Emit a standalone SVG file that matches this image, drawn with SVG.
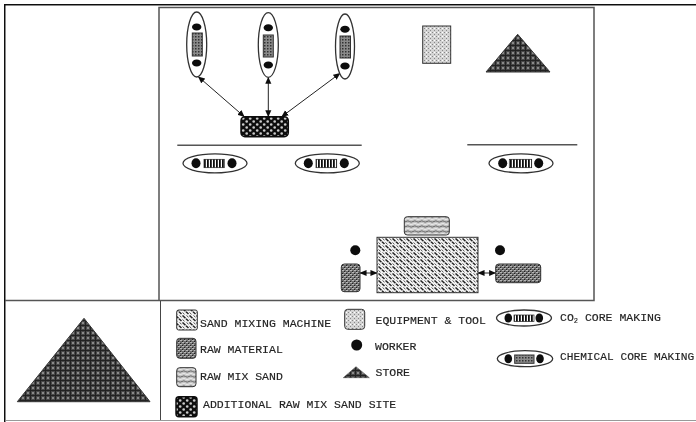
<svg xmlns="http://www.w3.org/2000/svg" width="696" height="422" viewBox="0 0 696 422">
<style>
.t{font-family:"Liberation Mono","Courier New",monospace;font-size:11.5px;fill:#222;stroke:#222;stroke-width:.15}
.f{fill:none;stroke:#555;stroke-width:1.5}
.e{fill:#fff;stroke:#333;stroke-width:1.300}
.w{fill:#0a0a0a}
.s{stroke:#333;stroke-width:1}
.c{stroke:#222;stroke-width:1;fill:none;marker-start:url(#a);marker-end:url(#a)}
</style>
<defs>
<marker id="a" viewBox="0 0 8 8" refX="7.5" refY="4" markerWidth="7" markerHeight="7" markerUnits="userSpaceOnUse" orient="auto-start-reverse"><path d="M0 0.5L8 4L0 7.5Z" fill="#111"/></marker>
<pattern id="mix" width="7" height="7" patternUnits="userSpaceOnUse"><rect width="7" height="7" fill="#f4f4f4"/><path d="M0.500 0.500L3.500 3.200M4 3.700L6.500 6" stroke="#222" stroke-width="1.500" fill="none"/><path d="M4.500 0.500L6.500 2.200M0.500 4.500L2.500 6.300" stroke="#555" stroke-width="1" fill="none"/></pattern>
<pattern id="raw" width="4" height="4" patternUnits="userSpaceOnUse"><rect width="4" height="4" fill="#6e6e6e"/><path d="M0 0h2v1H0zM2 2h2v1H2z" fill="#b8b8b8"/><path d="M2 1h1v1H2zM0 3h1v1H0z" fill="#222"/></pattern>
<pattern id="mixs" width="7" height="5" patternUnits="userSpaceOnUse"><rect width="7" height="5" fill="#c4c4c4"/><path d="M0 1.500Q2 .2 3.500 1.500T7 1.500" fill="none" stroke="#666" stroke-width="1"/><path d="M0 4Q2 3 3.500 4T7 4" fill="none" stroke="#eee" stroke-width="1"/></pattern>
<pattern id="add" width="7" height="6" patternUnits="userSpaceOnUse"><rect width="7" height="6" fill="#111"/><circle cx="1.700" cy="1.500" r="1.300" fill="#ccc"/><circle cx="5.200" cy="4.500" r="1.300" fill="#ccc"/></pattern>
<pattern id="eq" width="4" height="4" patternUnits="userSpaceOnUse"><rect width="4" height="4" fill="#d4d4d4"/><path d="M0 0h1v1H0zM2 2h1v1H2z" fill="#888"/><path d="M2 0h1v1H2z" fill="#fff"/></pattern>
<pattern id="st" width="5" height="5" patternUnits="userSpaceOnUse"><rect width="5" height="5" fill="#4a4a4a"/><path d="M0 .5H5M.5 0V5" stroke="#222" stroke-width="1"/><rect x="2" y="2" width="2" height="2" fill="#8a8a8a"/></pattern>
<pattern id="chem" width="3" height="3" patternUnits="userSpaceOnUse"><rect width="3" height="3" fill="#8a8a8a"/><path d="M0 0h1.500v1.500H0z" fill="#333"/></pattern>
<pattern id="bar" width="3" height="4" patternUnits="userSpaceOnUse"><rect width="3" height="4" fill="#fff"/><rect width="1.800" height="4" fill="#111"/></pattern>
<filter id="b" x="0" y="0" width="100%" height="100%"><feGaussianBlur stdDeviation=".5"/></filter>
</defs>
<rect width="696" height="422" fill="#fff"/>
<g filter="url(#b)">
<g id="frame">
<path d="M4.500 422V4.500H696" fill="none" stroke="#111" stroke-width="2"/>
<path d="M159 300V7.500H594V300.500H5" class="f"/>
<path d="M160.500 301V420" fill="none" stroke="#444" stroke-width="1"/>
<path d="M6 420.500H696" fill="none" stroke="#999" stroke-width="1"/>
<path d="M177.300 145.300H361.700M467.300 144.700H577.300" class="f"/>
</g>
<g id="connectors">
<path class="c" d="M198.300 76.700L244.300 116.700"/>
<path class="c" d="M268.300 77.300V116.700"/>
<path class="c" d="M340 73.300L281.700 116.700"/>
<path class="c" d="M360 273H377"/>
<path class="c" d="M478 273H495.700"/>
</g>
<g id="chem-core-1"><ellipse class="e" cx="196.700" cy="44.500" rx="10" ry="32.500"/><ellipse class="w" cx="196.700" cy="27" rx="4.700" ry="3.500"/><rect class="s" x="192.300" y="33" width="10" height="23" fill="url(#chem)"/><ellipse class="w" cx="196.700" cy="63" rx="4.700" ry="3.500"/></g>
<g id="chem-core-2"><ellipse class="e" cx="268.300" cy="45" rx="10" ry="32.300"/><ellipse class="w" cx="268.300" cy="27.700" rx="4.700" ry="3.500"/><rect class="s" x="263.300" y="35" width="10" height="22" fill="url(#chem)"/><ellipse class="w" cx="268.300" cy="65" rx="4.700" ry="3.500"/></g>
<g id="chem-core-3"><ellipse class="e" cx="345" cy="46.500" rx="9.500" ry="32.500"/><ellipse class="w" cx="345" cy="29.300" rx="4.700" ry="3.500"/><rect class="s" x="340" y="36" width="10.500" height="22" fill="url(#chem)"/><ellipse class="w" cx="345" cy="66" rx="4.700" ry="3.500"/></g>
<g id="additional-site"><rect x="241" y="116.700" width="47.300" height="20" rx="4" fill="url(#add)" stroke="#111" stroke-width="1.500"/></g>
<g id="co2-core-1"><ellipse class="e" cx="215" cy="163.300" rx="32" ry="9.500"/><ellipse class="w" cx="196" cy="163.300" rx="4.500" ry="5"/><rect x="204" y="159.300" width="20.300" height="8.400" fill="url(#bar)" stroke="#222" stroke-width=".7"/><ellipse class="w" cx="232" cy="163.300" rx="4.500" ry="5"/></g>
<g id="co2-core-2"><ellipse class="e" cx="327.300" cy="163.300" rx="32" ry="9.500"/><ellipse class="w" cx="308.300" cy="163.300" rx="4.500" ry="5"/><rect x="316" y="159.300" width="20.700" height="8.400" fill="url(#bar)" stroke="#222" stroke-width=".7"/><ellipse class="w" cx="344.300" cy="163.300" rx="4.500" ry="5"/></g>
<g id="co2-core-3"><ellipse class="e" cx="521" cy="163.300" rx="32" ry="9.500"/><ellipse class="w" cx="502.700" cy="163.300" rx="4.500" ry="5"/><rect x="509.300" y="159.300" width="22.400" height="8.400" fill="url(#bar)" stroke="#222" stroke-width=".7"/><ellipse class="w" cx="538.700" cy="163.300" rx="4.500" ry="5"/></g>
<g id="equipment"><rect class="s" x="422.700" y="26" width="28" height="37.300" fill="url(#eq)"/></g>
<g id="store"><path class="s" d="M517.700 34.300L550 72H486Z" fill="url(#st)"/></g>
<g id="raw-mix-sand"><rect class="s" x="404.300" y="216.700" width="45" height="18.300" rx="3" fill="url(#mixs)"/></g>
<g id="sand-mixing-machine"><rect class="s" x="377" y="237.300" width="101" height="55.400" fill="url(#mix)"/></g>
<g id="raw-material-1"><rect class="s" x="341.300" y="264" width="18.700" height="27.700" rx="3" fill="url(#raw)"/></g>
<g id="raw-material-2"><rect class="s" x="495.700" y="264" width="45" height="18.700" rx="3" fill="url(#raw)"/></g>
<g id="worker-1"><circle class="w" cx="355.300" cy="250.300" r="5"/></g>
<g id="worker-2"><circle class="w" cx="500" cy="250.300" r="5"/></g>
<g id="big-store"><path class="s" d="M84 318.300L150 401.700H17.300Z" fill="url(#st)"/></g>
<g id="legend-sand"><rect class="s" x="176.700" y="310" width="20.600" height="20" rx="2" fill="url(#mix)"/><text class="t" x="200" y="326.500">SAND MIXING MACHINE</text></g>
<g id="legend-raw"><rect class="s" x="176.700" y="338.300" width="19.300" height="20" rx="3" fill="url(#raw)"/><text class="t" x="200" y="353">RAW MATERIAL</text></g>
<g id="legend-mix"><rect class="s" x="176.700" y="367.700" width="19.300" height="19" rx="3" fill="url(#mixs)"/><text class="t" x="200" y="380">RAW MIX SAND</text></g>
<g id="legend-add"><rect x="176" y="396.700" width="21" height="20" rx="3" fill="url(#add)" stroke="#111" stroke-width="1.500"/><text class="t" x="203" y="408.300">ADDITIONAL RAW MIX SAND SITE</text></g>
<g id="legend-eq"><rect class="s" x="344.700" y="309.300" width="20" height="20" rx="3" fill="url(#eq)"/><text class="t" x="375.500" y="324">EQUIPMENT &amp; TOOL</text></g>
<g id="legend-worker"><circle class="w" cx="356.700" cy="345" r="5.500"/><text class="t" x="375" y="350">WORKER</text></g>
<g id="legend-store"><path d="M356 366.700L369.300 377.700H343.300Z" fill="url(#st)" stroke="#333" stroke-width=".5"/><text class="t" x="375.500" y="376">STORE</text></g>
<g id="legend-co2"><ellipse class="e" cx="524" cy="318" rx="27.500" ry="8"/><ellipse class="w" cx="508.300" cy="318" rx="3.800" ry="4.500"/><rect x="514" y="315" width="20" height="6.500" fill="url(#bar)" stroke="#222" stroke-width=".7"/><ellipse class="w" cx="539.300" cy="318" rx="3.800" ry="4.500"/><text class="t" x="560" y="321">CO<tspan font-size="7" dy="1.500">2</tspan><tspan dy="-1.500"> CORE MAKING</tspan></text></g>
<g id="legend-chem"><ellipse class="e" cx="525" cy="358.700" rx="27.700" ry="8"/><ellipse class="w" cx="508.300" cy="358.700" rx="3.800" ry="4.500"/><rect class="s" x="514.700" y="355" width="19.300" height="8.300" fill="url(#chem)"/><ellipse class="w" cx="540" cy="358.700" rx="3.800" ry="4.500"/><text class="t" x="560" y="360" style="font-size:11.200px">CHEMICAL CORE MAKING</text></g>
</g>
</svg>
